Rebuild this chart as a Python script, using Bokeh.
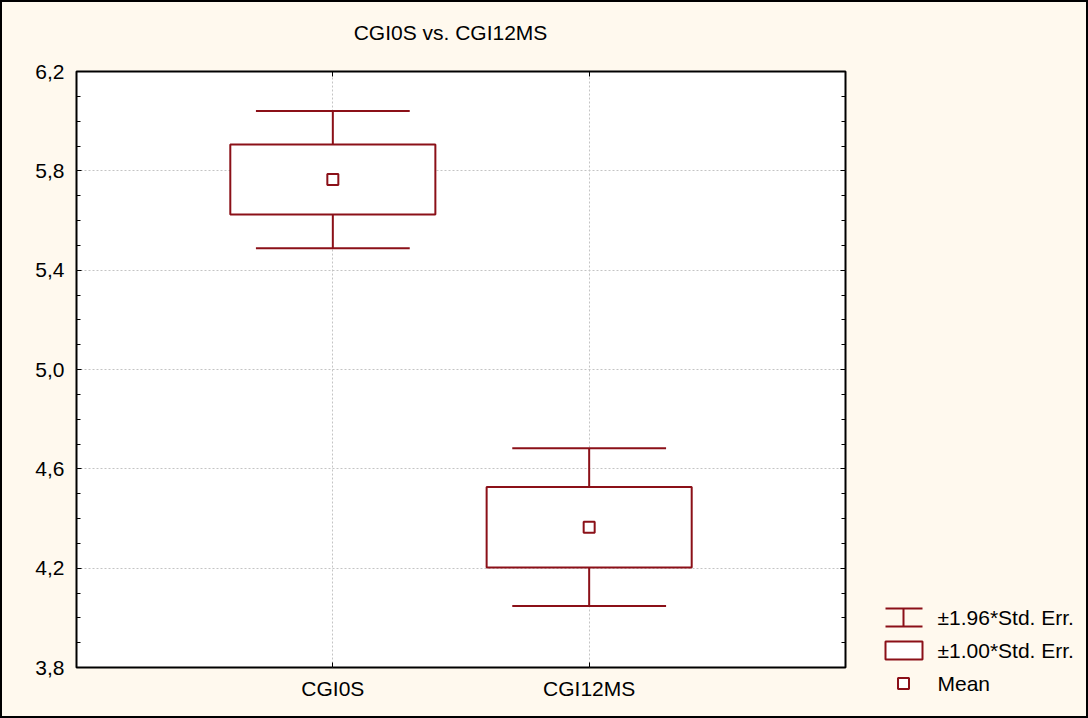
from bokeh.plotting import figure
from bokeh.layouts import row, column
from bokeh.models import FixedTicker, LinearAxis, CustomJSTickFormatter, ColumnDataSource
from bokeh.core.properties import value
from bokeh.embed import file_html
from bokeh.resources import INLINE

# ---- data -------------------------------------------------------------
categories = ["CGI0S", "CGI12MS"]
means = [5.765, 4.365]
std_errs = [0.141, 0.162]
y_ticks = [3.8, 4.2, 4.6, 5.0, 5.4, 5.8, 6.2]
title_text = "CGI0S vs. CGI12MS"
legend_labels = ["\u00b11.96*Std. Err.", "\u00b11.00*Std. Err.", "Mean"]

# ---- style ------------------------------------------------------------
BG = "#FFF9EE"
RED = "#8b1018"
GRID = "#c4c4c4"
FONT = "Liberation Sans"
FS = "21px"

# ---- derived columns --------------------------------------------------
xs = [i + 1 for i in range(len(categories))]
box_half, cap_half = 0.4, 0.3
src = ColumnDataSource(dict(
    x=xs,
    mean=means,
    box_lo=[m - s for m, s in zip(means, std_errs)],
    box_hi=[m + s for m, s in zip(means, std_errs)],
    wh_lo=[m - 1.96 * s for m, s in zip(means, std_errs)],
    wh_hi=[m + 1.96 * s for m, s in zip(means, std_errs)],
    left=[x - box_half for x in xs],
    right=[x + box_half for x in xs],
    cap_l=[x - cap_half for x in xs],
    cap_r=[x + cap_half for x in xs],
))


def blank_panel(w, h):
    f = figure(width=w, height=h, x_range=(0, w), y_range=(0, h),
               x_axis_type=None, y_axis_type=None, output_backend="svg",
               toolbar_location=None, min_border=0, frame_align=False,
               background_fill_color=BG, border_fill_color=BG, outline_line_color=None)
    f.grid.visible = False
    return f


# ---- title strip -----------------------------------------------------
tw, th = 1084, 50
tf = blank_panel(tw, th)
tf.text(x=[448], y=[20], text=[title_text], text_font=value(FONT), text_font_size=FS,
        text_align="center", text_baseline="middle", text_color="black")

# ---- main plot -------------------------------------------------------
p = figure(width=870, height=664, x_range=(0, len(categories) + 1),
           y_range=(y_ticks[0], y_ticks[-1]),
           output_backend="svg", toolbar_location=None, frame_align=False,
           min_border_left=74, min_border_top=19, min_border_bottom=49, min_border_right=27,
           background_fill_color="white", border_fill_color=BG,
           outline_line_color="black", outline_line_width=2)

minor = [round(y_ticks[0] + 0.1 * k, 2) for k in range(int(round((y_ticks[-1] - y_ticks[0]) / 0.1)) + 1)]
blank = CustomJSTickFormatter(code="return '';")

# bottom axis
xa = p.xaxis[0]
xa.ticker = FixedTicker(ticks=xs)
xa.major_label_overrides = {x: c for x, c in zip(xs, categories)}
xa.major_label_text_font = FONT
xa.major_label_text_font_size = FS
xa.major_label_text_color = "black"
xa.major_label_standoff = 9
xa.major_tick_in = 5
xa.major_tick_out = 0
xa.minor_tick_line_color = None
xa.axis_line_color = None
xa.major_tick_line_color = "black"

# left axis
ya = p.yaxis[0]
ya.ticker = FixedTicker(ticks=y_ticks, minor_ticks=minor)
ya.formatter = CustomJSTickFormatter(code="return tick.toFixed(1).replace('.', ',');")
ya.major_label_text_font = FONT
ya.major_label_text_font_size = FS
ya.major_label_text_color = "black"
ya.major_label_standoff = 12
ya.major_tick_in = 5
ya.major_tick_out = 0
ya.minor_tick_in = 4
ya.minor_tick_out = 0
ya.axis_line_color = None
ya.major_tick_line_color = "black"
ya.minor_tick_line_color = "black"

# mirrored axes on top and right, ticks only
top = LinearAxis(ticker=FixedTicker(ticks=xs), formatter=blank,
                 major_label_text_font_size="1px",
                 major_label_standoff=0, major_tick_in=5, major_tick_out=0,
                 minor_tick_line_color=None, axis_line_color=None)
p.add_layout(top, "above")
right = LinearAxis(ticker=FixedTicker(ticks=y_ticks, minor_ticks=minor), formatter=blank,
                   major_label_text_font_size="1px", major_label_standoff=0,
                   major_tick_in=5, major_tick_out=0, minor_tick_in=4, minor_tick_out=0,
                   axis_line_color=None)
p.add_layout(right, "right")

p.xgrid.grid_line_color = GRID
p.xgrid.grid_line_dash = "2 2"
p.ygrid.grid_line_color = GRID
p.ygrid.grid_line_dash = "2 2"

# whiskers (±1.96 SE), boxes (±1.00 SE), means
p.segment(x0="x", x1="x", y0="box_hi", y1="wh_hi", source=src, line_color=RED, line_width=2)
p.segment(x0="x", x1="x", y0="wh_lo", y1="box_lo", source=src, line_color=RED, line_width=2)
p.segment(x0="cap_l", x1="cap_r", y0="wh_hi", y1="wh_hi", source=src, line_color=RED, line_width=2)
p.segment(x0="cap_l", x1="cap_r", y0="wh_lo", y1="wh_lo", source=src, line_color=RED, line_width=2)
p.quad(left="left", right="right", bottom="box_lo", top="box_hi", source=src,
       fill_color="white", line_color=RED, line_width=2)
p.scatter(x="x", y="mean", source=src, marker="square", size=11,
          fill_color="white", line_color=RED, line_width=2)

# ---- legend panel ----------------------------------------------------
lf = blank_panel(214, 664)

gx0, gx1, gxc, tx = 13, 50, 31, 65
row_y = [99, 66, 33]
# item 1: whisker symbol
lf.segment(x0=[gx0, gx0, gxc], x1=[gx1, gx1, gxc], y0=[108, 90, 90], y1=[108, 90, 108],
           line_color=RED, line_width=2)
# item 2: box symbol
lf.quad(left=[gx0], right=[gx1], bottom=[57], top=[75], fill_color="white",
        line_color=RED, line_width=2)
# item 3: mean symbol
lf.scatter(x=[gxc], y=[row_y[2]], marker="square", size=11, fill_color="white",
           line_color=RED, line_width=2)
lf.text(x=[tx] * 3, y=row_y, text=legend_labels, text_font=value(FONT),
        text_font_size=FS, text_baseline="middle", text_align="left", text_color="black")

layout = column(tf, row(p, lf), styles={"border": "2px solid black", "background-color": BG})

open("out.html", "w").write(file_html(layout, INLINE))
